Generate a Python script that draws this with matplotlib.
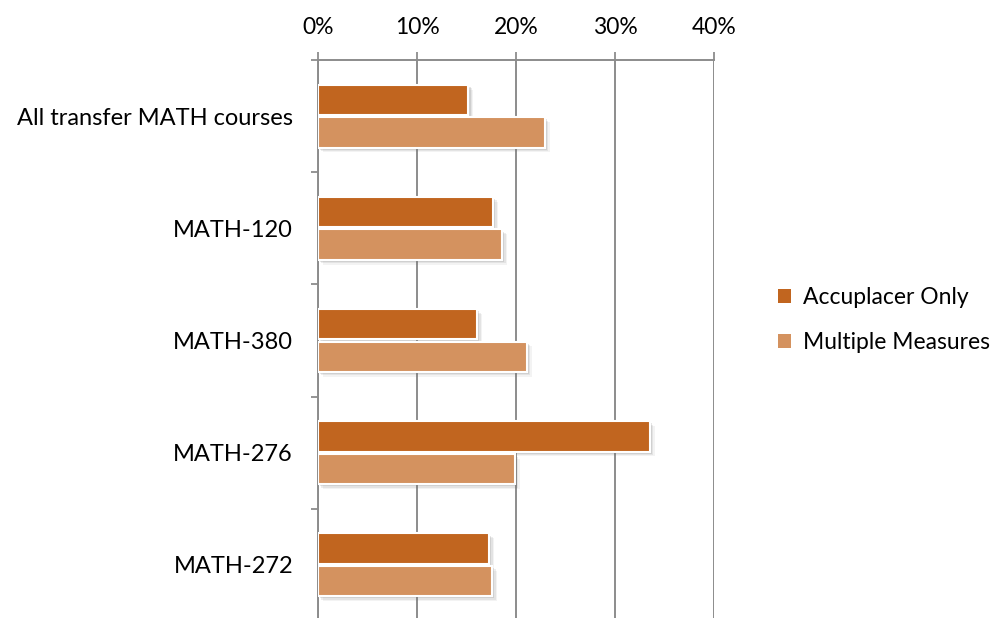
import numpy as np
import matplotlib
matplotlib.use("Agg")
import matplotlib.pyplot as plt
import matplotlib.patheffects as pe
from matplotlib.ticker import PercentFormatter

# Course categories, top to bottom
courses = ["All transfer MATH courses", "MATH-120", "MATH-380", "MATH-276", "MATH-272"]

# Share of students (%) per placement method
accuplacer_only = [15.2, 17.7, 16.1, 33.5, 17.3]
multiple_measures = [22.9, 18.6, 21.1, 19.9, 17.6]

series_names = ["Accuplacer Only", "Multiple Measures"]
colors = ["#C1651F", "#D4925F"]

plt.rcParams["font.family"] = ["Lato", "DejaVu Sans"]
FS = 16.5

fig = plt.figure(figsize=(10.06, 6.18), dpi=100)
ax = fig.add_axes([318 / 1006, -3 / 618, (714 - 318) / 1006, (618 - 57) / 618])

n = len(courses)
y = np.arange(n)
bar_h = 0.27

# soft drop shadow built from a few faint offset copies
shadow = [pe.SimplePatchShadow(offset=(d, -d), shadow_rgbFace="#707070", alpha=a)
          for d, a in [(3.5, 0.08), (2.5, 0.12), (1.5, 0.18)]] + [pe.Normal()]

for vals, name, col, off in zip([accuplacer_only, multiple_measures], series_names,
                                colors, [-bar_h / 2 - 0.01, bar_h / 2 + 0.01]):
    bars = ax.barh(y + off, vals, height=bar_h, color=col, edgecolor="white",
                   linewidth=1.5, label=name, zorder=3)
    for b in bars:
        b.set_path_effects(shadow)

ax.set_ylim(n - 0.5, -0.5)
ax.set_xlim(0, 40)

# Axis on top with percent labels
ax.xaxis.tick_top()
ax.set_xticks(np.arange(0, 41, 10))
ax.xaxis.set_major_formatter(PercentFormatter(decimals=0))
ax.tick_params(axis="x", which="major", direction="out", length=6, width=1.3,
               color="#8c8c8c", labelsize=FS, pad=10)

# Category labels at centres, tick marks at boundaries
ax.set_yticks(y)
ax.set_yticklabels(courses, fontsize=17)
ax.set_yticks(np.arange(n + 1) - 0.5, minor=True)
ax.tick_params(axis="y", which="major", length=0, pad=18)
ax.tick_params(axis="y", which="minor", direction="out", length=5, width=1.3,
               color="#8c8c8c")

ax.grid(axis="x", color="#8c8c8c", linewidth=1.4, zorder=0)
ax.set_axisbelow(True)

for side in ["right", "bottom"]:
    ax.spines[side].set_visible(False)
for side in ["top", "left"]:
    ax.spines[side].set_color("#8c8c8c")
    ax.spines[side].set_linewidth(1.4)

leg = fig.legend(loc="center left", bbox_to_anchor=(757 / 1006, 1 - 320 / 618),
                 frameon=False, fontsize=FS, handlelength=0.6, handleheight=0.6,
                 handletextpad=0.5, labelspacing=1.05)
for h in leg.legend_handles:
    h.set_path_effects([pe.Normal()])
    h.set_edgecolor("none")

fig.savefig("out.png", dpi=100, facecolor="white")
